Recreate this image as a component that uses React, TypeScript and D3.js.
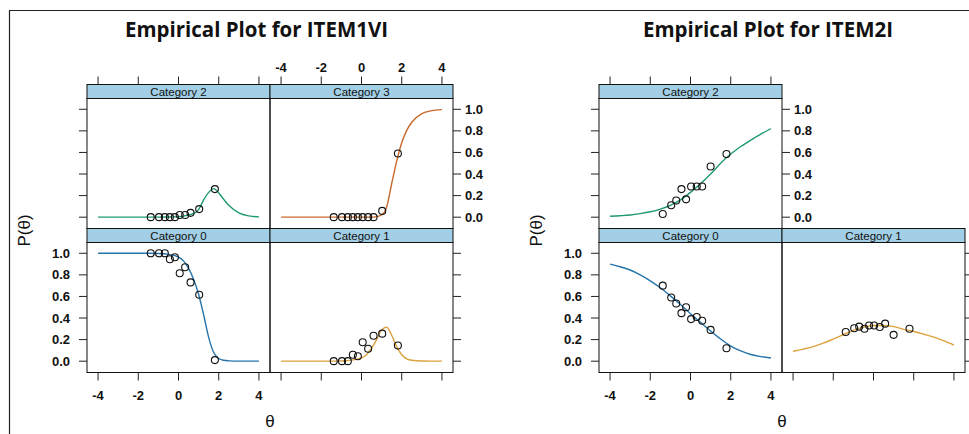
import React from 'react';
import * as d3 from 'd3';

// tick labels
const xTicks = [-4, -2, 0, 2, 4];
const yTicks = [0, 0.2, 0.4, 0.6, 0.8, 1.0];

// model curve grid (theta)
const gridTheta1 = [-4, -3.5, -3, -2.5, -2, -1.5, -1, -0.5, 0, 0.25, 0.5, 0.75, 1, 1.25, 1.5, 1.75, 2, 2.25, 2.5, 3, 3.5, 4];
const gridTheta2 = [-4, -3.5, -3, -2.5, -2, -1.5, -1, -0.5, 0, 0.5, 1, 1.5, 2, 2.5, 3, 3.5, 4];

// ITEM1VI
const item1Theta = [-1.38, -0.97, -0.68, -0.43, -0.18, 0.06, 0.33, 0.6, 1.03, 1.81];
const item1Obs0 = [1.0, 1.0, 1.0, 0.945, 0.963, 0.815, 0.87, 0.73, 0.615, 0.01];
const item1Obs1 = [0, 0, 0, 0.06, 0.045, 0.175, 0.115, 0.235, 0.255, 0.145];
const item1Obs2 = [0, 0, 0, 0, 0, 0.02, 0.02, 0.04, 0.075, 0.26];
const item1Obs3 = [0, 0, 0, 0, 0, 0, 0, 0, 0.058, 0.59];
const item1Curve0 = [1, 1, 1, 1, 1, 1, 0.998, 0.99, 0.965, 0.93, 0.86, 0.76, 0.62, 0.43, 0.22, 0.08, 0.025, 0.008, 0.003, 0, 0, 0];
const item1Curve1 = [0, 0, 0, 0, 0, 0, 0.002, 0.01, 0.03, 0.06, 0.12, 0.2, 0.29, 0.315, 0.24, 0.135, 0.06, 0.022, 0.008, 0.001, 0, 0];
const item1Curve2 = [0, 0, 0, 0, 0, 0, 0, 0.001, 0.005, 0.01, 0.02, 0.035, 0.07, 0.16, 0.23, 0.265, 0.225, 0.165, 0.11, 0.04, 0.012, 0.003];
const item1Curve3 = [0, 0, 0, 0, 0, 0, 0, 0, 0, 0, 0, 0.005, 0.02, 0.095, 0.31, 0.52, 0.69, 0.805, 0.88, 0.96, 0.988, 0.997];

// ITEM2I
const item2Theta = [-1.38, -0.96, -0.71, -0.45, -0.22, 0.03, 0.31, 0.58, 1.0, 1.79];
const item2Obs0 = [0.7, 0.59, 0.535, 0.445, 0.5, 0.39, 0.41, 0.375, 0.29, 0.12];
const item2Obs1 = [0.27, 0.305, 0.32, 0.3, 0.33, 0.33, 0.317, 0.348, 0.244, 0.3];
const item2Obs2 = [0.03, 0.11, 0.155, 0.26, 0.165, 0.285, 0.285, 0.285, 0.47, 0.585];
const item2Curve0 = [0.9, 0.875, 0.845, 0.8, 0.745, 0.68, 0.605, 0.525, 0.44, 0.36, 0.28, 0.205, 0.14, 0.095, 0.062, 0.042, 0.03];
const item2Curve1 = [0.092, 0.112, 0.135, 0.167, 0.205, 0.245, 0.285, 0.315, 0.33, 0.33, 0.32, 0.295, 0.275, 0.25, 0.223, 0.188, 0.15];
const item2Curve2 = [0.008, 0.013, 0.02, 0.033, 0.05, 0.075, 0.11, 0.16, 0.23, 0.31, 0.4, 0.5, 0.585, 0.655, 0.715, 0.77, 0.82];

const catColors = ['#2574ab', '#dda23e', '#1e9a72', '#c9692b'];
const stripFill = '#a2cfe5';

const colW = 183;
const stripH = 14;
const panelH = 130;
const rowTop = 84.5;
const axisFont = '"Liberation Sans", Arial, sans-serif';

type Panel = { cat: number; row: number; col: number; obs: number[]; curve: number[] };

const ItemPlot = (props: {
  left: number; title: string; titleX: number; titleW: number;
  theta: number[]; grid: number[]; panels: Panel[];
}) => {
  const { left, title, titleX, titleW, theta, grid, panels } = props;
  const nRows = 2;
  const rowOf = (r: number) => rowTop + r * (stripH + panelH);

  const line = d3.line<[number, number]>().curve(d3.curveMonotoneX);

  return (
    <g>
      <text x={titleX} y={37} textLength={titleW} lengthAdjust="spacingAndGlyphs"
        fontFamily='"Open Sans", Lato, sans-serif' fontWeight="bold" fontSize={22} fill="#111">{title}</text>
      {panels.map(p => {
        const x0 = left + p.col * colW;
        const sy = rowOf(p.row);
        const py = sy + stripH;
        const x = d3.scaleLinear().domain([-4.55, 4.55]).range([x0, x0 + colW]);
        const y = d3.scaleLinear().domain([-0.105, 1.1]).range([py + panelH, py]);
        const pts = grid.map((t, i) => [x(t), y(p.curve[i])] as [number, number]);
        // lattice: top axis only on the first row, bottom axis only on the last
        const isTop = p.row === 0;
        const isBottom = p.row === nRows - 1;
        const isLeft = p.col === 0;
        const isRight = !panels.some(q => q.row === p.row && q.col > p.col);
        const labTop = p.col % 2 === 1;
        const labBottom = p.col % 2 === 0;
        const labLeft = p.row === nRows - 1;
        const labRight = p.row === 0;
        return (
          <g key={p.cat}>
            <rect x={x0} y={sy} width={colW} height={stripH} fill={stripFill} stroke="#111" strokeWidth={1} />
            <text x={x0 + colW / 2} y={sy + 11} textAnchor="middle" fontFamily={axisFont} fontSize={11.5} fill="#111">
              {`Category ${p.cat}`}
            </text>
            <rect x={x0} y={py} width={colW} height={panelH} fill="none" stroke="#111" strokeWidth={1} />
            <path d={line(pts) || ''} fill="none" stroke={catColors[p.cat]} strokeWidth={1.4} />
            {theta.map((t, i) => (
              <circle key={i} cx={x(t)} cy={y(p.obs[i])} r={3.5} fill="none" stroke="#111" strokeWidth={1.1} />
            ))}
            {isTop && xTicks.map(t => (
              <g key={'t' + t}>
                <line x1={x(t)} x2={x(t)} y1={sy} y2={sy - 8} stroke="#222" />
                {labTop && <text x={x(t)} y={sy - 13} textAnchor="middle" fontFamily={axisFont} fontWeight="bold" fontSize={13} fill="#111">{t}</text>}
              </g>
            ))}
            {isBottom && xTicks.map(t => (
              <g key={'b' + t}>
                <line x1={x(t)} x2={x(t)} y1={py + panelH} y2={py + panelH + 8} stroke="#222" />
                {labBottom && <text x={x(t)} y={py + panelH + 27} textAnchor="middle" fontFamily={axisFont} fontWeight="bold" fontSize={13} fill="#111">{t}</text>}
              </g>
            ))}
            {isLeft && yTicks.map(v => (
              <g key={'l' + v}>
                <line x1={x0} x2={x0 - 8} y1={y(v)} y2={y(v)} stroke="#222" />
                {labLeft && <text x={x0 - 17} y={y(v) + 4.5} textAnchor="end" fontFamily={axisFont} fontWeight="bold" fontSize={13} fill="#111">{v.toFixed(1)}</text>}
              </g>
            ))}
            {isRight && yTicks.map(v => (
              <g key={'r' + v}>
                <line x1={x0 + colW} x2={x0 + colW + 8} y1={y(v)} y2={y(v)} stroke="#222" />
                {labRight && <text x={x0 + colW + 12} y={y(v) + 4.5} textAnchor="start" fontFamily={axisFont} fontWeight="bold" fontSize={13} fill="#111">{v.toFixed(1)}</text>}
              </g>
            ))}
          </g>
        );
      })}
      <text x={left + colW} y={427} textAnchor="middle" fontFamily={axisFont} fontSize={17} fill="#111">θ</text>
      <text transform={`translate(${left - 57},${rowOf(1) + 2}) rotate(-90)`} textAnchor="middle"
        fontFamily={axisFont} fontSize={17} fill="#111">P(θ)</text>
    </g>
  );
};

export default function App() {
  const item1Panels: Panel[] = [
    { cat: 2, row: 0, col: 0, obs: item1Obs2, curve: item1Curve2 },
    { cat: 3, row: 0, col: 1, obs: item1Obs3, curve: item1Curve3 },
    { cat: 0, row: 1, col: 0, obs: item1Obs0, curve: item1Curve0 },
    { cat: 1, row: 1, col: 1, obs: item1Obs1, curve: item1Curve1 },
  ];
  const item2Panels: Panel[] = [
    { cat: 2, row: 0, col: 0, obs: item2Obs2, curve: item2Curve2 },
    { cat: 0, row: 1, col: 0, obs: item2Obs0, curve: item2Curve0 },
    { cat: 1, row: 1, col: 1, obs: item2Obs1, curve: item2Curve1 },
  ];
  return (
    <svg width={969} height={434} style={{ position: 'absolute', left: 0, top: 0, background: '#fff' }}>
      <rect x={0} y={0} width={969} height={434} fill="#fff" />
      <line x1={9} x2={969} y1={10.5} y2={10.5} stroke="#222" strokeWidth={1.2} />
      <line x1={9.5} x2={9.5} y1={10} y2={434} stroke="#222" strokeWidth={1.2} />
      <ItemPlot left={87} title="Empirical Plot for ITEM1VI" titleX={125} titleW={263}
        theta={item1Theta} grid={gridTheta1} panels={item1Panels} />
      <ItemPlot left={599} title="Empirical Plot for ITEM2I" titleX={643} titleW={250}
        theta={item2Theta} grid={gridTheta2} panels={item2Panels} />
    </svg>
  );
}
